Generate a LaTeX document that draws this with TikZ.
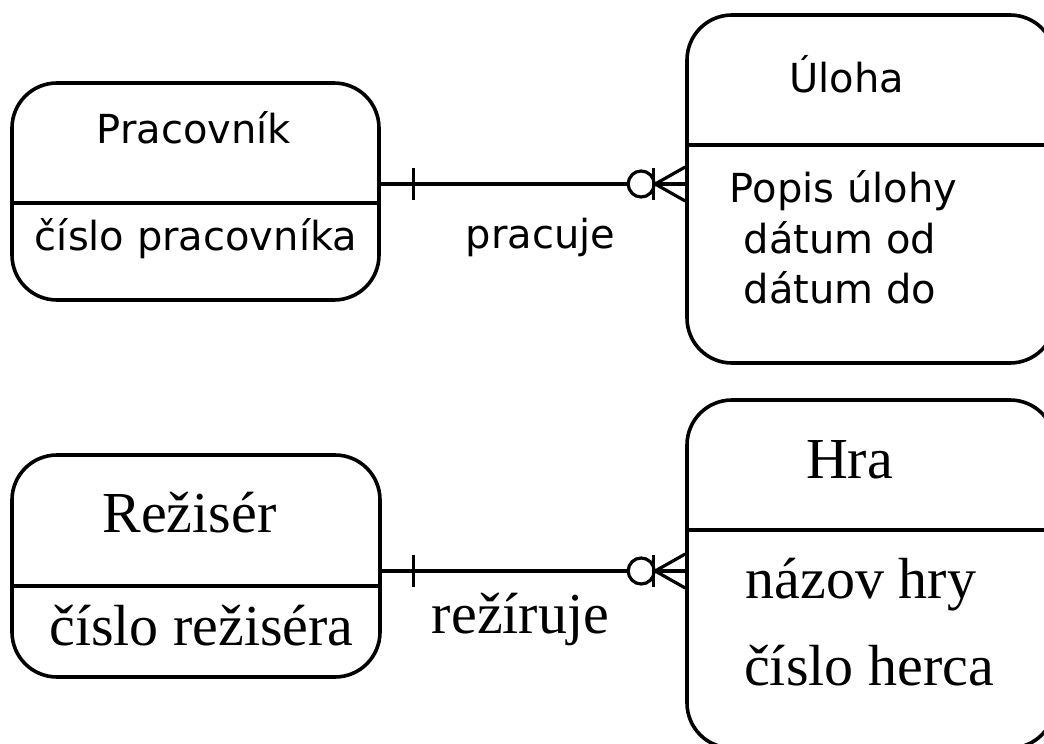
\documentclass[tikz,border=0pt]{standalone}
\usepackage{fontspec}
\setmainfont{Liberation Serif}
\newfontfamily\sansf{DejaVu Sans}
\usetikzlibrary{calc}
\tikzset{
  entity/.style={draw, line width=3.6pt, rounded corners=45pt, inner sep=0pt, fill=white},
  divider/.style={line width=3.6pt},
  rel/.style={line width=3.2pt},
  sanstext/.style={inner sep=0pt, anchor=base, font=\sansf\fontsize{40}{48}\selectfont},
  seriftext/.style={inner sep=0pt, anchor=base, font=\fontsize{58}{66}\selectfont},
}
\begin{document}
\begin{tikzpicture}[x=1pt, y=-1pt]
\useasboundingbox (0,0) rectangle (1044,744);
\clip (0,0) rectangle (1044,744);
\fill[white] (0,0) rectangle (1044,744);

% entity boxes
\node[entity, minimum width=367pt, minimum height=217pt] (prac) at (195.5,191.5) {};
\node[entity, minimum width=368pt, minimum height=348pt] (ul) at (871,189) {};
\node[entity, minimum width=368pt, minimum height=222pt] (rez) at (196,566) {};
\node[entity, minimum width=368pt, minimum height=348pt] (hra) at (871,574) {};

% dividers
\draw[divider] (prac.west |- 0,203) -- (prac.east |- 0,203);
\draw[divider] (ul.west |- 0,145) -- (ul.east |- 0,145);
\draw[divider] (rez.west |- 0,586) -- (rez.east |- 0,586);
\draw[divider] (hra.west |- 0,530) -- (hra.east |- 0,530);

% texts
\node[sanstext] (tprac) at (194,143) {Pracovník};
\node[sanstext] (aprac) at (196,250) {číslo pracovníka};
\node[sanstext] (tul) at (846.5,92) {Úloha};
\node[sanstext] (aul1) at (843.5,202) {Popis úlohy};
\node[sanstext] (aul2) at (840,253) {dátum od};
\node[sanstext] (aul3) at (840,303) {dátum do};
\node[sanstext] (lprac) at (540.5,248) {pracuje};

\node[seriftext] (trez) at (189.5,532) {Režisér};
\node[seriftext] (arez) at (201.5,645) {číslo režiséra};
\node[seriftext] (thra) at (849.5,478) {Hra};
\node[seriftext] (ahra1) at (861,598) {názov hry};
\node[seriftext] (ahra2) at (869,685) {číslo herca};
\node[seriftext] (lrez) at (520.5,633) {režíruje};

% relationship 1
\coordinate (a1) at (prac.east |- 0,184);
\coordinate (b1) at (ul.west |- 0,184);
\draw[rel] (a1) -- (b1);
\draw[rel] ($(a1)+(33,-16)$) -- ($(a1)+(33,16)$);
\draw[rel, fill=white] ($(b1)+(-44,0)$) circle (13pt);
\draw[rel] ($(b1)+(-32,-16)$) -- ($(b1)+(-32,16)$);
\draw[rel] ($(b1)+(0,-17)$) -- ($(b1)+(-30,0)$) -- ($(b1)+(0,17)$);

% relationship 2
\coordinate (a2) at (rez.east |- 0,571);
\coordinate (b2) at (hra.west |- 0,571);
\draw[rel] (a2) -- (b2);
\draw[rel] ($(a2)+(32,-16)$) -- ($(a2)+(32,16)$);
\draw[rel, fill=white] ($(b2)+(-44,0)$) circle (13pt);
\draw[rel] ($(b2)+(-32,-16)$) -- ($(b2)+(-32,16)$);
\draw[rel] ($(b2)+(0,-17)$) -- ($(b2)+(-30,0)$) -- ($(b2)+(0,17)$);
\end{tikzpicture}
\end{document}
